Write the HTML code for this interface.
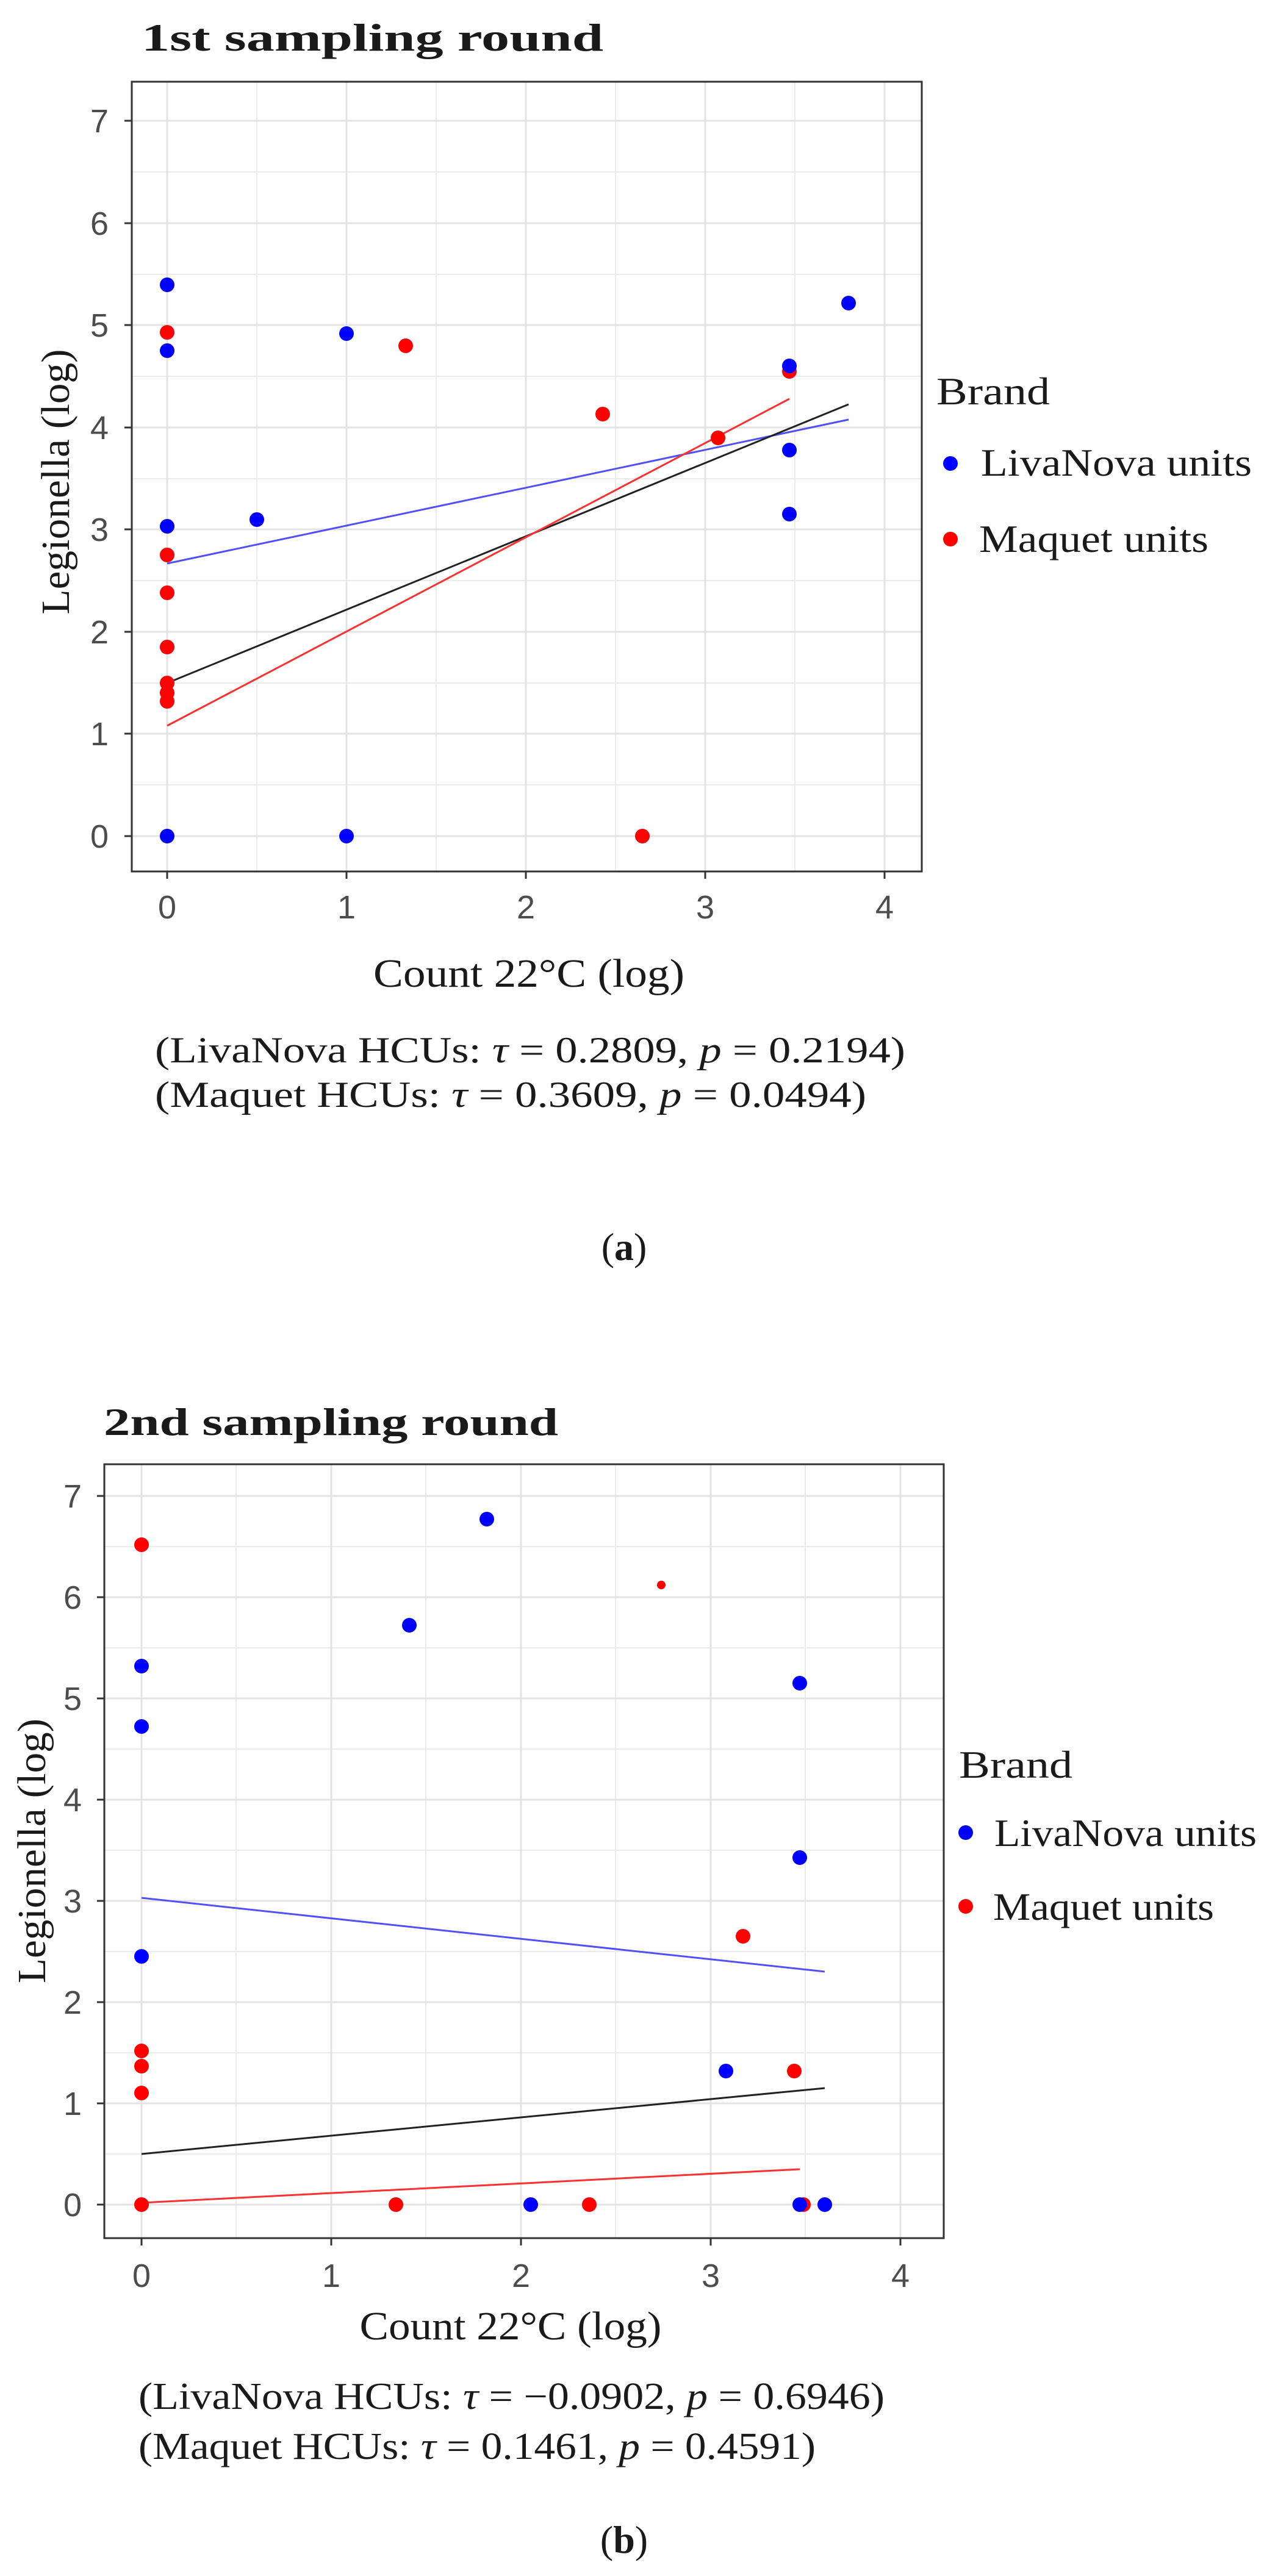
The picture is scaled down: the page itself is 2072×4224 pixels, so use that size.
<!DOCTYPE html>
<html><head><meta charset="utf-8"><style>
html,body{margin:0;padding:0;background:#fff}
svg{display:block}
.s{font-family:"Liberation Serif",serif;fill:#1a1a1a}
.t{font-family:"Liberation Sans",sans-serif;fill:#4d4d4d;font-size:54px}
</style></head><body>
<svg width="2072" height="4224" viewBox="0 0 2072 4224" xmlns="http://www.w3.org/2000/svg">
<rect width="2072" height="4224" fill="#fff"/>
<!-- PANEL A -->
<text class="s" x="232" y="83" font-size="64" font-weight="bold" textLength="757" lengthAdjust="spacingAndGlyphs">1st sampling round</text>
<g stroke="#ebebeb" stroke-width="2">
<line x1="216" x2="1511" y1="1287" y2="1287"/><line x1="216" x2="1511" y1="1120" y2="1120"/><line x1="216" x2="1511" y1="952" y2="952"/><line x1="216" x2="1511" y1="785" y2="785"/><line x1="216" x2="1511" y1="617" y2="617"/><line x1="216" x2="1511" y1="450" y2="450"/><line x1="216" x2="1511" y1="282" y2="282"/>
<line y1="134" y2="1429" x1="421" x2="421"/><line y1="134" y2="1429" x1="715" x2="715"/><line y1="134" y2="1429" x1="1009" x2="1009"/><line y1="134" y2="1429" x1="1303" x2="1303"/>
</g>
<g stroke="#e3e3e3" stroke-width="3">
<line x1="216" x2="1511" y1="1371" y2="1371"/><line x1="216" x2="1511" y1="1203" y2="1203"/><line x1="216" x2="1511" y1="1036" y2="1036"/><line x1="216" x2="1511" y1="868" y2="868"/><line x1="216" x2="1511" y1="701" y2="701"/><line x1="216" x2="1511" y1="533" y2="533"/><line x1="216" x2="1511" y1="366" y2="366"/><line x1="216" x2="1511" y1="198" y2="198"/>
<line y1="134" y2="1429" x1="274" x2="274"/><line y1="134" y2="1429" x1="568" x2="568"/><line y1="134" y2="1429" x1="862" x2="862"/><line y1="134" y2="1429" x1="1156" x2="1156"/><line y1="134" y2="1429" x1="1450" x2="1450"/>
</g>
<g stroke="#333" stroke-width="3">
<line x1="204" x2="216" y1="1371" y2="1371"/><line x1="204" x2="216" y1="1203" y2="1203"/><line x1="204" x2="216" y1="1036" y2="1036"/><line x1="204" x2="216" y1="868" y2="868"/><line x1="204" x2="216" y1="701" y2="701"/><line x1="204" x2="216" y1="533" y2="533"/><line x1="204" x2="216" y1="366" y2="366"/><line x1="204" x2="216" y1="198" y2="198"/>
<line y1="1429" y2="1441" x1="274" x2="274"/><line y1="1429" y2="1441" x1="568" x2="568"/><line y1="1429" y2="1441" x1="862" x2="862"/><line y1="1429" y2="1441" x1="1156" x2="1156"/><line y1="1429" y2="1441" x1="1450" x2="1450"/>
</g>
<g class="t" text-anchor="end">
<text x="178" y="1390">0</text><text x="178" y="1222">1</text><text x="178" y="1055">2</text><text x="178" y="887">3</text><text x="178" y="720">4</text><text x="178" y="552">5</text><text x="178" y="385">6</text><text x="178" y="217">7</text>
</g>
<g class="t" text-anchor="middle">
<text x="274" y="1506">0</text><text x="568" y="1506">1</text><text x="862" y="1506">2</text><text x="1156" y="1506">3</text><text x="1450" y="1506">4</text>
</g>
<g stroke-width="3" fill="none">
<line x1="274" y1="924" x2="1391" y2="688" stroke="#5050ff"/>
<line x1="274" y1="1120" x2="1391" y2="663" stroke="#222"/>
<line x1="274" y1="1190" x2="1294" y2="654" stroke="#ff3030"/>
</g>
<g fill="#ff0000">
<circle cx="274" cy="545" r="12"/><circle cx="274" cy="910" r="12"/><circle cx="274" cy="972" r="12"/><circle cx="274" cy="1061" r="12"/><circle cx="274" cy="1120" r="12"/><circle cx="274" cy="1136" r="12"/><circle cx="274" cy="1150" r="12"/><circle cx="665" cy="567" r="12"/><circle cx="988" cy="679" r="12"/><circle cx="1177" cy="718" r="12"/><circle cx="1294" cy="609" r="12"/><circle cx="1053" cy="1371" r="12"/>
</g>
<g fill="#0000ff">
<circle cx="274" cy="467" r="12"/><circle cx="274" cy="575" r="12"/><circle cx="274" cy="863" r="12"/><circle cx="274" cy="1371" r="12"/><circle cx="421" cy="852" r="12"/><circle cx="568" cy="547" r="12"/><circle cx="568" cy="1371" r="12"/><circle cx="1294" cy="600" r="12"/><circle cx="1294" cy="738" r="12"/><circle cx="1294" cy="843" r="12"/><circle cx="1391" cy="497" r="12"/>
</g>
<rect x="216" y="134" width="1295" height="1295" fill="none" stroke="#333" stroke-width="3"/>
<text class="s" transform="translate(113,790) rotate(-90)" text-anchor="middle" font-size="66" textLength="435" lengthAdjust="spacingAndGlyphs">Legionella (log)</text>
<text class="s" x="867" y="1618" text-anchor="middle" font-size="66" textLength="510" lengthAdjust="spacingAndGlyphs">Count 22°C (log)</text>
<text class="s" x="254" y="1742" font-size="60" textLength="1230" lengthAdjust="spacingAndGlyphs">(LivaNova HCUs: <tspan font-style="italic">τ</tspan> = 0.2809, <tspan font-style="italic">p</tspan> = 0.2194)</text>
<text class="s" x="254" y="1815" font-size="60" textLength="1166" lengthAdjust="spacingAndGlyphs">(Maquet HCUs: <tspan font-style="italic">τ</tspan> = 0.3609, <tspan font-style="italic">p</tspan> = 0.0494)</text>
<text class="s" x="1535" y="663" font-size="64" textLength="186" lengthAdjust="spacingAndGlyphs">Brand</text>
<circle cx="1558" cy="760" r="12" fill="#0000ff"/><circle cx="1558" cy="884" r="12" fill="#ff0000"/>
<text class="s" x="1608" y="780" font-size="64" textLength="444" lengthAdjust="spacingAndGlyphs">LivaNova units</text>
<text class="s" x="1605" y="905" font-size="64" textLength="376" lengthAdjust="spacingAndGlyphs">Maquet units</text>
<text class="s" x="1023" y="2066" text-anchor="middle" font-size="64">(<tspan font-weight="bold">a</tspan>)</text>

<!-- PANEL B -->
<text class="s" x="170" y="2353" font-size="64" font-weight="bold" textLength="745" lengthAdjust="spacingAndGlyphs">2nd sampling round</text>
<g stroke="#ebebeb" stroke-width="2">
<line x1="171" x2="1547" y1="3532" y2="3532"/><line x1="171" x2="1547" y1="3366" y2="3366"/><line x1="171" x2="1547" y1="3200" y2="3200"/><line x1="171" x2="1547" y1="3034" y2="3034"/><line x1="171" x2="1547" y1="2868" y2="2868"/><line x1="171" x2="1547" y1="2702" y2="2702"/><line x1="171" x2="1547" y1="2536" y2="2536"/>
<line y1="2401" y2="3670" x1="387" x2="387"/><line y1="2401" y2="3670" x1="698" x2="698"/><line y1="2401" y2="3670" x1="1009" x2="1009"/><line y1="2401" y2="3670" x1="1320" x2="1320"/>
</g>
<g stroke="#e3e3e3" stroke-width="3">
<line x1="171" x2="1547" y1="3615" y2="3615"/><line x1="171" x2="1547" y1="3449" y2="3449"/><line x1="171" x2="1547" y1="3283" y2="3283"/><line x1="171" x2="1547" y1="3117" y2="3117"/><line x1="171" x2="1547" y1="2951" y2="2951"/><line x1="171" x2="1547" y1="2785" y2="2785"/><line x1="171" x2="1547" y1="2619" y2="2619"/><line x1="171" x2="1547" y1="2453" y2="2453"/>
<line y1="2401" y2="3670" x1="232" x2="232"/><line y1="2401" y2="3670" x1="543" x2="543"/><line y1="2401" y2="3670" x1="854" x2="854"/><line y1="2401" y2="3670" x1="1165" x2="1165"/><line y1="2401" y2="3670" x1="1476" x2="1476"/>
</g>
<g stroke="#333" stroke-width="3">
<line x1="159" x2="171" y1="3615" y2="3615"/><line x1="159" x2="171" y1="3449" y2="3449"/><line x1="159" x2="171" y1="3283" y2="3283"/><line x1="159" x2="171" y1="3117" y2="3117"/><line x1="159" x2="171" y1="2951" y2="2951"/><line x1="159" x2="171" y1="2785" y2="2785"/><line x1="159" x2="171" y1="2619" y2="2619"/><line x1="159" x2="171" y1="2453" y2="2453"/>
<line y1="3670" y2="3682" x1="232" x2="232"/><line y1="3670" y2="3682" x1="543" x2="543"/><line y1="3670" y2="3682" x1="854" x2="854"/><line y1="3670" y2="3682" x1="1165" x2="1165"/><line y1="3670" y2="3682" x1="1476" x2="1476"/>
</g>
<g class="t" text-anchor="end">
<text x="134" y="3634">0</text><text x="134" y="3468">1</text><text x="134" y="3302">2</text><text x="134" y="3136">3</text><text x="134" y="2970">4</text><text x="134" y="2804">5</text><text x="134" y="2638">6</text><text x="134" y="2472">7</text>
</g>
<g class="t" text-anchor="middle">
<text x="232" y="3750">0</text><text x="543" y="3750">1</text><text x="854" y="3750">2</text><text x="1165" y="3750">3</text><text x="1476" y="3750">4</text>
</g>
<g stroke-width="3" fill="none">
<line x1="232" y1="3112" x2="1352" y2="3233" stroke="#5050ff"/>
<line x1="232" y1="3532" x2="1352" y2="3424" stroke="#222"/>
<line x1="232" y1="3612" x2="1311" y2="3557" stroke="#ff3030"/>
</g>
<g fill="#ff0000">
<circle cx="232" cy="2533" r="12"/><circle cx="232" cy="3363" r="12"/><circle cx="232" cy="3388" r="12"/><circle cx="232" cy="3432" r="12"/><circle cx="232" cy="3615" r="12"/><circle cx="1084" cy="2599" r="7"/><circle cx="1218" cy="3175" r="12"/><circle cx="1302" cy="3396" r="12"/><circle cx="649" cy="3615" r="12"/><circle cx="966" cy="3615" r="12"/><circle cx="1317" cy="3615" r="12"/>
</g>
<g fill="#0000ff">
<circle cx="232" cy="2732" r="12"/><circle cx="232" cy="2831" r="12"/><circle cx="232" cy="3208" r="12"/><circle cx="671" cy="2665" r="12"/><circle cx="798" cy="2491" r="12"/><circle cx="1311" cy="2760" r="12"/><circle cx="1311" cy="3046" r="12"/><circle cx="1190" cy="3396" r="12"/><circle cx="870" cy="3615" r="12"/><circle cx="1311" cy="3615" r="12"/><circle cx="1352" cy="3615" r="12"/>
</g>
<rect x="171" y="2401" width="1376" height="1269" fill="none" stroke="#333" stroke-width="3"/>
<text class="s" transform="translate(74,3035) rotate(-90)" text-anchor="middle" font-size="66" textLength="434" lengthAdjust="spacingAndGlyphs">Legionella (log)</text>
<text class="s" x="837" y="3836" text-anchor="middle" font-size="66" textLength="495" lengthAdjust="spacingAndGlyphs">Count 22°C (log)</text>
<text class="s" x="227" y="3950" font-size="62" textLength="1223" lengthAdjust="spacingAndGlyphs">(LivaNova HCUs: <tspan font-style="italic">τ</tspan> = −0.0902, <tspan font-style="italic">p</tspan> = 0.6946)</text>
<text class="s" x="227" y="4032" font-size="62" textLength="1110" lengthAdjust="spacingAndGlyphs">(Maquet HCUs: <tspan font-style="italic">τ</tspan> = 0.1461, <tspan font-style="italic">p</tspan> = 0.4591)</text>
<text class="s" x="1572" y="2915" font-size="64" textLength="186" lengthAdjust="spacingAndGlyphs">Brand</text>
<circle cx="1583" cy="3005" r="12" fill="#0000ff"/><circle cx="1583" cy="3126" r="12" fill="#ff0000"/>
<text class="s" x="1630" y="3027" font-size="64" textLength="430" lengthAdjust="spacingAndGlyphs">LivaNova units</text>
<text class="s" x="1628" y="3148" font-size="64" textLength="362" lengthAdjust="spacingAndGlyphs">Maquet units</text>
<text class="s" x="1023" y="4186" text-anchor="middle" font-size="64">(<tspan font-weight="bold">b</tspan>)</text>
</svg>
</body></html>
